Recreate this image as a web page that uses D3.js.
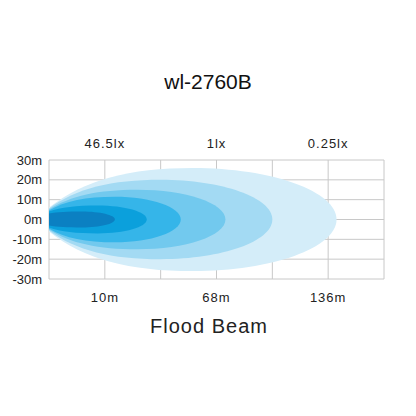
<!DOCTYPE html>
<html><head><meta charset="utf-8">
<script src="https://cdn.jsdelivr.net/npm/d3@7"></script>
<style>body{margin:0;background:#fff}</style>
</head><body>
<svg id="chart" width="416" height="416"></svg>
<script>
var title = "wl-2760B";
var x_label = "Flood Beam";
var y_ticks = [30, 20, 10, 0, -10, -20, -30];
var dist_labels = ["10m", "68m", "136m"];
var lux_labels = ["46.5lx", "1lx", "0.25lx"];
var label_pos = [1, 3, 5];
// beam layers: reach (grid units), half width (m), start half width (m)
var reach = [5.15, 4.0, 3.16, 2.36, 1.75, 1.18];
var half_width = [26, 20, 15, 11.5, 7, 4];
var start_width = [6, 5.5, 5, 4.5, 4, 3];
var colors = ["#d4edf9", "#a3daf3", "#72c9ee", "#35b5e9", "#0ba0dc", "#0b80c2"];

const svg = d3.select("#chart").attr("font-family", "Liberation Sans, Arial, sans-serif");
var x = d3.scaleLinear().domain([0, 6]).range([49, 384]);
var y = d3.scaleLinear().domain([-30, 30]).range([279, 160]);

// grid
svg.append("g").selectAll("line").data(y_ticks).enter().append("line")
    .attr("x1", x(0)).attr("x2", x(6))
    .attr("y1", d => y(d)).attr("y2", d => y(d))
    .attr("stroke", "#c8c8c8").attr("stroke-width", 1);
svg.append("g").selectAll("line").data(d3.range(7)).enter().append("line")
    .attr("x1", d => x(d)).attr("x2", d => x(d))
    .attr("y1", y(30)).attr("y2", y(-30))
    .attr("stroke", "#c8c8c8").attr("stroke-width", 1);

function beam(R, h, w0) {
    var p = d3.path();
    var m = R * 0.5;
    p.moveTo(x(0), y(w0));
    p.bezierCurveTo(x(0.12 * R), y(w0 + (h - w0) * 0.7), x(0.28 * R), y(h), x(m), y(h));
    p.bezierCurveTo(x(m + 0.55 * (R - m)), y(h), x(R), y(0.55 * h), x(R), y(0));
    p.bezierCurveTo(x(R), y(-0.55 * h), x(m + 0.55 * (R - m)), y(-h), x(m), y(-h));
    p.bezierCurveTo(x(0.28 * R), y(-h), x(0.12 * R), y(-w0 - (h - w0) * 0.7), x(0), y(-w0));
    p.closePath();
    return p.toString();
}
svg.append("g").selectAll("path").data(reach).enter().append("path")
    .attr("d", (d, i) => beam(d, half_width[i], start_width[i]))
    .attr("fill", (d, i) => colors[i]);

// y labels
svg.append("g").selectAll("text").data(y_ticks).enter().append("text")
    .attr("x", 42).attr("y", d => y(d) + 4.5)
    .attr("text-anchor", "end").attr("font-size", 13).attr("fill", "#222")
    .text(d => d + "m");

svg.append("g").selectAll("text").data(dist_labels).enter().append("text")
    .attr("x", (d, i) => x(label_pos[i])).attr("y", 302)
    .attr("text-anchor", "middle").attr("font-size", 13).attr("fill", "#222")
    .attr("letter-spacing", 1).text(d => d);
svg.append("g").selectAll("text").data(lux_labels).enter().append("text")
    .attr("x", (d, i) => x(label_pos[i])).attr("y", 148)
    .attr("text-anchor", "middle").attr("font-size", 13).attr("fill", "#222")
    .attr("letter-spacing", 1).text(d => d);

svg.append("text").attr("x", 208).attr("y", 89).attr("text-anchor", "middle")
    .attr("font-size", 21).attr("fill", "#111").text(title);
svg.append("text").attr("x", 209).attr("y", 333).attr("text-anchor", "middle")
    .attr("font-size", 20).attr("fill", "#222").attr("letter-spacing", 1).text(x_label);
</script>
</body></html>
